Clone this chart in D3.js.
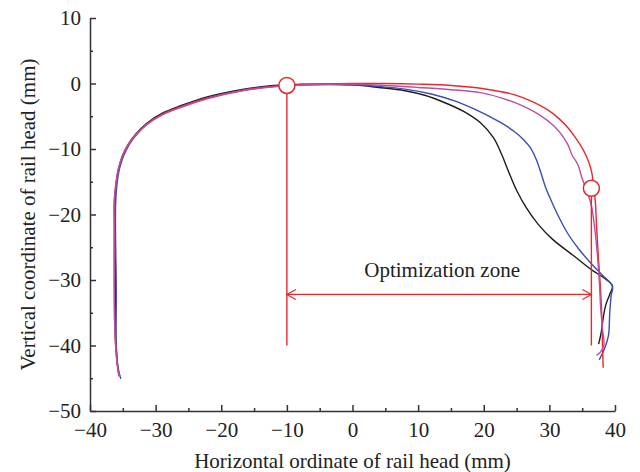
<!DOCTYPE html>
<html>
<head>
<meta charset="utf-8">
<script src="https://cdn.jsdelivr.net/npm/d3@7"></script>
<style>
  html, body { margin: 0; padding: 0; background: #fff; }
  svg { display: block; }
  text { font-family: "Liberation Serif", "DejaVu Serif", serif; fill: #222; }
</style>
</head>
<body>
<svg id="chart" width="640" height="472"></svg>
<script>
// ---------- data (mm) ----------
const xTicksMajor = [-40, -30, -20, -10, 0, 10, 20, 30, 40];
const xTicksMinor = [-35, -25, -15, -5, 5, 15, 25, 35];
const yTicksMajor = [10, 0, -10, -20, -30, -40, -50];
const yTicksMinor = [5, -5, -15, -25, -35, -45];

const seriesBlack = [
  [-35.6,-44.6],[-35.9,-42],[-36.1,-38],[-36.1,-30],[-36.2,-22],[-36.2,-18],[-36.0,-15.5],
  [-35.6,-13],[-35.0,-11],[-34.1,-9.2],[-33.1,-7.8],[-31.4,-6.1],[-28.9,-4.5],[-26.2,-3.4],
  [-22,-2.0],[-17,-0.95],[-12,-0.3],[-8,-0.12],[-4,-0.1],[0,-0.2],[4,-0.6],[8,-1.1],[11,-1.8],
  [14,-2.9],[17,-4.3],[19.5,-6.0],[21.5,-8.3],[22.8,-11],[23.8,-13.5],[25,-16.3],[26.5,-19],
  [28.3,-21.5],[30.5,-23.8],[33.7,-26.3],[36.5,-28.5],[38.5,-29.8],[39.6,-30.9],[39.2,-32.2],
  [38.6,-33.8],[38.2,-35.8],[37.9,-38],[37.5,-39.8]
];
const seriesBlue = [
  [-35.3,-45.1],[-35.7,-43.5],[-36.0,-40],[-36.0,-32],[-36.1,-24],[-36.1,-18.5],[-35.9,-15.5],
  [-35.5,-13],[-34.9,-11.1],[-34.0,-9.3],[-33.0,-7.9],[-31.3,-6.2],[-28.8,-4.6],[-26.1,-3.5],
  [-22,-2.15],[-17,-1.05],[-12,-0.4],[-8,-0.2],[-4,-0.15],[0,-0.2],[4,-0.45],[8,-0.85],[12,-1.6],
  [16,-2.8],[19,-4.1],[21,-5.1],[23,-6.2],[24.6,-7.3],[26,-8.5],[27.1,-9.8],[28,-11.6],
  [28.7,-13.6],[29.4,-15.8],[30.2,-17.7],[31.4,-20.3],[32.8,-22.9],[34.5,-25.3],[36.3,-27.4],
  [38,-29.2],[39.6,-30.9],[39.4,-32.5],[39.2,-35],[39.0,-38.5],[38.4,-40.5],[37.6,-42.2]
];
const seriesMagenta = [
  [-35.5,-44.8],[-35.9,-42.5],[-36.2,-38],[-36.3,-30],[-36.3,-22],[-36.3,-18],[-36.1,-15.8],
  [-35.7,-13.2],[-35.1,-11.2],[-34.2,-9.4],[-33.2,-8.1],[-31.5,-6.4],[-29,-4.8],[-26.3,-3.7],
  [-22,-2.3],[-17,-1.15],[-12,-0.5],[-8,-0.25],[-4,-0.15],[0,-0.1],[5,-0.3],[10,-0.6],[15,-0.95],
  [19.5,-1.4],[23,-2.3],[26.1,-3.5],[28.5,-4.8],[30.7,-6.5],[32,-8],[32.8,-9.3],[33.5,-11],
  [34.3,-12.3],[35,-14.5],[35.8,-16.6],[36.4,-18.6],[36.9,-22],[37.3,-26],[37.6,-30],
  [37.8,-34],[38.1,-37.5],[38.3,-40],[37.8,-41],[37.2,-41.5]
];
const seriesRed = [
  [-35.6,-44.5],[-35.9,-42.3],[-36.2,-38],[-36.3,-30],[-36.3,-22],[-36.3,-18],[-36.1,-15.6],
  [-35.7,-13.1],[-35.1,-11.1],[-34.2,-9.3],[-33.2,-8.0],[-31.5,-6.3],[-29,-4.7],[-26.3,-3.6],
  [-22,-2.2],[-17,-1.1],[-12,-0.45],[-8,-0.2],[-4,-0.05],[0,0],[5,0],[10,-0.1],[15,-0.3],
  [20,-0.8],[24.6,-1.7],[27.5,-2.8],[29.7,-4],[31.5,-5.4],[32.7,-6.6],[34,-8.3],[35.2,-10.2],
  [36,-12],[36.5,-13.8],[36.7,-15.5],[37,-18],[37.2,-22],[37.5,-27],[37.8,-31.5],[38,-36],
  [38.1,-40],[38.2,-43.4]
];
const seriesList = [seriesBlack, seriesBlue, seriesRed, seriesMagenta];
const seriesColors = ["#1c1c1c", "#3a4eb0", "#e8292b", "#bb4fa3"];

const markerPoints = [[-10, -0.3], [36.4, -16.0]];
const markerLineBottom = -40;
const arrowY = -32.2;
const zoneLabel = "Optimization zone";
const xTitle = "Horizontal ordinate of rail head (mm)";
const yTitle = "Vertical coordinate of rail head (mm)";

// ---------- layout ----------
const svg = d3.select("#chart");
const x = d3.scaleLinear().domain([-40, 40]).range([90, 615]);
const y = d3.scaleLinear().domain([10, -50]).range([18, 411]);
const fmt = d => d < 0 ? "\u2212" + Math.abs(d) : String(d);
const axisColor = "#333";
const fs = 21;

// axes
const gx = svg.append("g").attr("transform", `translate(0,${y(-50)})`);
gx.call(d3.axisBottom(x).tickValues(xTicksMajor).tickSizeInner(-6).tickSizeOuter(0).tickFormat(fmt));
gx.append("g").call(d3.axisBottom(x).tickValues(xTicksMinor).tickSizeInner(-3).tickSizeOuter(0).tickFormat(""))
  .select(".domain").remove();
gx.selectAll("text").attr("y", 11).attr("font-size", fs).attr("font-family", "Liberation Serif").attr("fill", "#222");

const gy = svg.append("g").attr("transform", `translate(${x(-40)},0)`);
gy.call(d3.axisLeft(y).tickValues(yTicksMajor).tickSizeInner(-6).tickSizeOuter(0).tickFormat(fmt));
gy.append("g").call(d3.axisLeft(y).tickValues(yTicksMinor).tickSizeInner(-3).tickSizeOuter(0).tickFormat(""))
  .select(".domain").remove();
gy.selectAll("text").attr("x", -9).attr("font-size", fs).attr("font-family", "Liberation Serif").attr("fill", "#222");

svg.selectAll(".domain, .tick line").attr("stroke", axisColor).attr("stroke-width", 1.5);

// titles
svg.append("text").attr("x", (x(-40) + x(40)) / 2).attr("y", 468)
  .attr("text-anchor", "middle").attr("font-size", fs).text(xTitle);
svg.append("text").attr("transform", `translate(35,${(y(10) + y(-50)) / 2}) rotate(-90)`)
  .attr("text-anchor", "middle").attr("font-size", fs).text(yTitle);

// curves
const line = d3.line().x(d => x(d[0])).y(d => y(d[1])).curve(d3.curveCatmullRom.alpha(0.5));
svg.append("g").selectAll("path").data(seriesList).join("path")
  .attr("d", line).attr("fill", "none")
  .attr("stroke", (d, i) => seriesColors[i]).attr("stroke-width", 1.4);

// optimization zone annotation
const red = "#e8292b";
const ann = svg.append("g");
ann.selectAll("line.v").data(markerPoints).join("line")
  .attr("x1", d => x(d[0])).attr("x2", d => x(d[0]))
  .attr("y1", d => y(d[1])).attr("y2", y(markerLineBottom))
  .attr("stroke", red).attr("stroke-width", 1.4);
const ax1 = x(markerPoints[0][0]), ax2 = x(markerPoints[1][0]), ay = y(arrowY);
ann.append("line").attr("x1", ax1).attr("x2", ax2).attr("y1", ay).attr("y2", ay)
  .attr("stroke", red).attr("stroke-width", 1.2);
ann.append("path").attr("d", `M${ax1 + 9},${ay - 5}L${ax1},${ay}L${ax1 + 9},${ay + 5}`)
  .attr("fill", "none").attr("stroke", red).attr("stroke-width", 1.2);
ann.append("path").attr("d", `M${ax2 - 9},${ay - 5}L${ax2},${ay}L${ax2 - 9},${ay + 5}`)
  .attr("fill", "none").attr("stroke", red).attr("stroke-width", 1.2);
ann.selectAll("circle").data(markerPoints).join("circle")
  .attr("cx", d => x(d[0])).attr("cy", d => y(d[1])).attr("r", 8)
  .attr("fill", "#fff").attr("stroke", red).attr("stroke-width", 1.5);
ann.append("text").attr("x", (ax1 + ax2) / 2 + 3).attr("y", ay - 17)
  .attr("text-anchor", "middle").attr("font-size", fs).text(zoneLabel);
</script>
</body>
</html>
